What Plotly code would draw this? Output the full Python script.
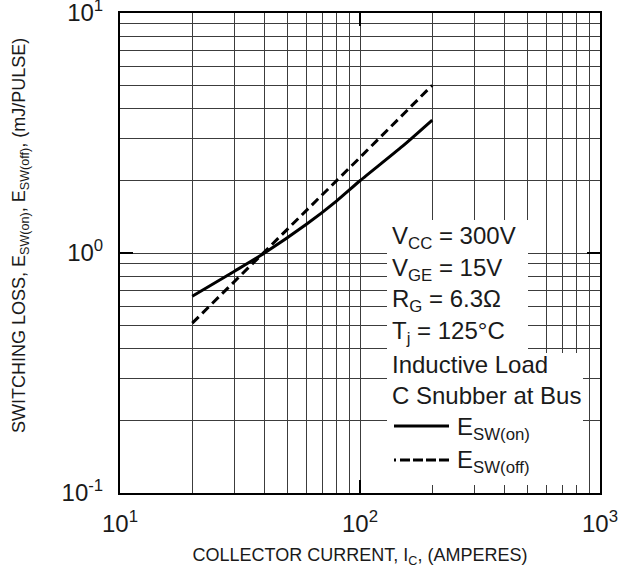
import plotly.graph_objects as go

# ---- data ----
ic_on = [20, 30, 40, 60, 80, 100, 150, 200]
esw_on = [0.66, 0.84, 1.0, 1.32, 1.65, 2.0, 2.78, 3.58]
ic_off = [20, 40, 100, 200]
esw_off = [0.51, 1.01, 2.5, 5.0]

x_tickvals = [10, 100, 1000]
x_ticktext = ["10<sup>1</sup>", "10<sup>2</sup>", "10<sup>3</sup>"]
y_tickvals = [0.1, 1, 10]
y_ticktext = ["10<sup>-1</sup>", "10<sup>0</sup>", "10<sup>1</sup>"]
x_minor = [20, 30, 40, 50, 60, 70, 80, 90, 200, 300, 400, 500, 600, 700, 800, 900]
y_minor = [0.2, 0.3, 0.4, 0.5, 0.6, 0.7, 0.8, 0.9, 2, 3, 4, 5, 6, 7, 8, 9]

cond_lines = [
    "V<sub>CC</sub> = 300V",
    "V<sub>GE</sub> = 15V",
    "R<sub>G</sub> = 6.3Ω",
    "T<sub>j</sub> = 125°C",
    "Inductive Load",
    "C Snubber at Bus",
]
legend_labels = ["E<sub>SW(on)</sub>", "E<sub>SW(off)</sub>"]

FONT = "Liberation Sans, Arial, Helvetica, sans-serif"
TXT = "#1a1a1a"
GRID = "#3c3c3c"

fig = go.Figure()
fig.add_trace(go.Scatter(x=ic_on, y=esw_on, mode="lines",
                         line=dict(color="black", width=3, shape="spline", smoothing=0.6),
                         showlegend=False))
fig.add_trace(go.Scatter(x=ic_off, y=esw_off, mode="lines",
                         line=dict(color="black", width=3, dash="9px,5px"), showlegend=False))

L, R, T, B = 120, 24, 13, 78
W, H = 624, 571
pw, ph = W - L - R, H - T - B

def px(xp):
    return (xp - L) / pw

def py(yp):
    return (H - B - yp) / ph

axis_common = dict(
    type="log",
    showgrid=True, gridcolor=GRID, gridwidth=1,
    showline=True, linecolor="black", linewidth=2, mirror="ticks",
    ticks="inside", ticklen=13, tickwidth=2, tickcolor="black",
    tickfont=dict(family=FONT, size=24, color=TXT),
    zeroline=False, ticklabeloverflow="allow", automargin=False,
)

fig.update_layout(
    width=W, height=H,
    margin=dict(l=L, r=R, t=T, b=B),
    plot_bgcolor="white", paper_bgcolor="white",
    font=dict(family=FONT, color=TXT),
    xaxis=dict(**axis_common, range=[1, 3], tickvals=x_tickvals, ticktext=x_ticktext,
               minor=dict(tickvals=x_minor, showgrid=True, gridcolor=GRID, gridwidth=1, ticks=""),
               ticklabelstandoff=8,
               title=dict(text="COLLECTOR CURRENT, I<sub>C</sub>, (AMPERES)",
                          font=dict(family=FONT, size=18, color=TXT), standoff=13)),
    yaxis=dict(**axis_common, range=[-1, 1], tickvals=y_tickvals, ticktext=y_ticktext,
               minor=dict(tickvals=y_minor, showgrid=True, gridcolor=GRID, gridwidth=1, ticks=""),
               ticklabelstandoff=10),
)

# white backgrounds behind the condition text
fig.add_shape(type="rect", xref="paper", yref="paper",
              x0=px(387), x1=px(528), y0=py(353), y1=py(220),
              fillcolor="white", line=dict(width=0), layer="above")
fig.add_shape(type="rect", xref="paper", yref="paper",
              x0=px(387), x1=px(583), y0=py(485), y1=py(353),
              fillcolor="white", line=dict(width=0), layer="above")

# condition text
cap_centers = [237, 269, 300.5, 332, 364, 395.5]
for txt, yc in zip(cond_lines, cap_centers):
    fig.add_annotation(xref="paper", yref="paper", x=px(390), y=py(yc),
                       xanchor="left", yanchor="middle", showarrow=False,
                       text=txt, font=dict(family=FONT, size=24, color=TXT))

# legend samples
fig.add_shape(type="line", xref="paper", yref="paper",
              x0=px(394), x1=px(449), y0=py(426), y1=py(426),
              line=dict(color="black", width=3), layer="above")
fig.add_shape(type="line", xref="paper", yref="paper",
              x0=px(394), x1=px(449), y0=py(460), y1=py(460),
              line=dict(color="black", width=3,
                        dash="2px,4px,10px,3px,10px,3px,10px,3px,10px,60px"), layer="above")
for txt, yc in zip(legend_labels, [428, 461]):
    fig.add_annotation(xref="paper", yref="paper", x=px(455), y=py(yc),
                       xanchor="left", yanchor="middle", showarrow=False,
                       text=txt, font=dict(family=FONT, size=24, color=TXT))

# y axis title
fig.add_annotation(xref="paper", yref="paper", x=px(20), y=py(236),
                   xanchor="center", yanchor="middle", showarrow=False, textangle=-90,
                   text="SWITCHING LOSS, E<sub>SW(on)</sub>, E<sub>SW(off)</sub>, (mJ/PULSE)",
                   font=dict(family=FONT, size=18, color=TXT))

fig.write_html("out.html",
               config={"displayModeBar": False},
               post_script="document.body.style.margin='0';document.body.style.overflow='hidden';")
